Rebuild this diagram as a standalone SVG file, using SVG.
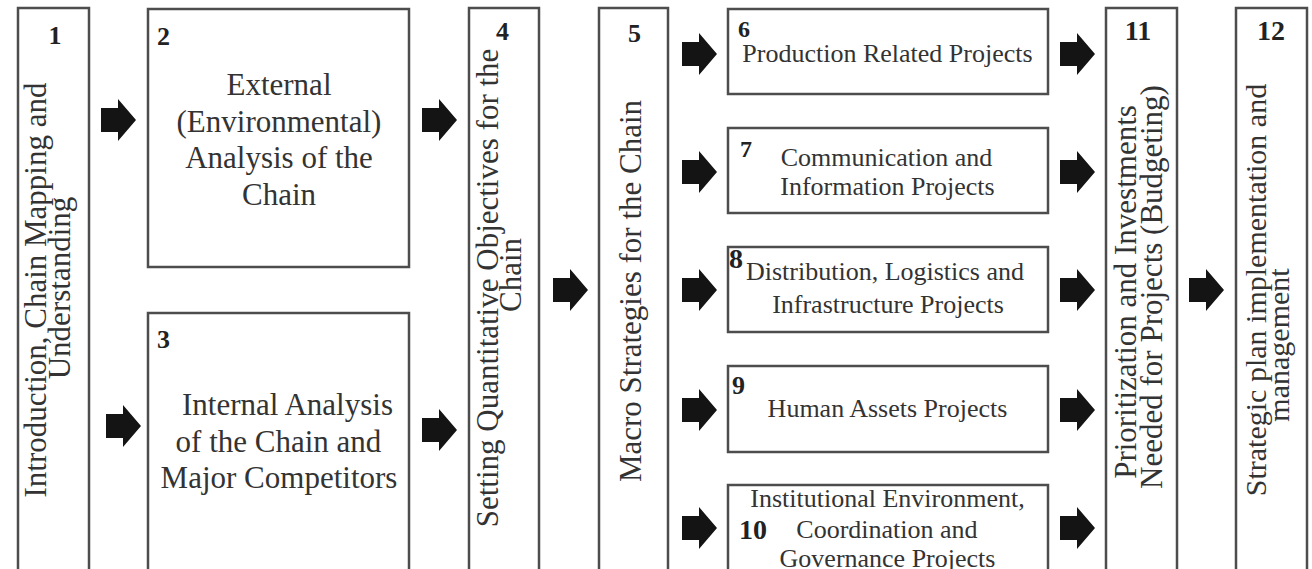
<svg xmlns="http://www.w3.org/2000/svg" width="1312" height="569" viewBox="0 0 1312 569">
  <style>
    .box { fill: #ffffff; stroke: #4d4d4d; stroke-width: 2.5; }
    .t { font-family: "Liberation Serif", "Times New Roman", serif; fill: #333333; }
    .big { font-size: 31px; }
    .mid { font-size: 26px; }
    .num { font-family: "Liberation Serif", "Times New Roman", serif; font-weight: bold; fill: #222222; }
    .arrow { fill: #141414; }
  </style>
  <defs>
    <!-- block arrow, centred on its own origin, pointing right -->
    <path id="blk" d="M-18,-12 H-1 V-21 L17,0 L-1,21 V12 H-18 Z"/>
  </defs>
  <rect width="1312" height="569" fill="#ffffff"/>

  <g id="node1">
    <rect class="box" x="18" y="8" width="71" height="580"/>
    <text class="num" x="55" y="44" font-size="26" text-anchor="middle">1</text>
    <text class="t big" x="46" y="290" text-anchor="middle" transform="rotate(-90 46 290)">Introduction, Chain Mapping and</text>
    <text class="t big" x="70" y="288" text-anchor="middle" transform="rotate(-90 70 288)">Understanding</text>
  </g>

  <g id="node2">
    <rect class="box" x="148" y="9" width="261" height="258"/>
    <text class="num" x="157" y="45" font-size="26">2</text>
    <text class="t big" x="279" y="95" text-anchor="middle">External</text>
    <text class="t big" x="279" y="132" text-anchor="middle">(Environmental)</text>
    <text class="t big" x="279" y="168" text-anchor="middle">Analysis of the</text>
    <text class="t big" x="279" y="205" text-anchor="middle">Chain</text>
  </g>

  <g id="node3">
    <rect class="box" x="148" y="313" width="261" height="280"/>
    <text class="num" x="157" y="348" font-size="26">3</text>
    <text class="t big" x="287.5" y="415" text-anchor="middle">Internal Analysis</text>
    <text class="t big" x="278.5" y="452" text-anchor="middle">of the Chain and</text>
    <text class="t big" x="279" y="488" text-anchor="middle">Major Competitors</text>
  </g>

  <g id="node4">
    <rect class="box" x="469" y="8" width="70" height="580"/>
    <text class="num" x="496" y="40" font-size="26">4</text>
    <text class="t big" x="498" y="288" text-anchor="middle" transform="rotate(-90 498 288)">Setting Quantitative Objectives for the</text>
    <text class="t big" x="521" y="275" text-anchor="middle" transform="rotate(-90 521 275)">Chain</text>
  </g>

  <g id="node5">
    <rect class="box" x="599" y="8" width="69" height="580"/>
    <text class="num" x="628" y="42" font-size="26">5</text>
    <text class="t big" x="641" y="291" text-anchor="middle" transform="rotate(-90 641 291)">Macro Strategies for the Chain</text>
  </g>

  <g id="node6">
    <rect class="box" x="728" y="9" width="320" height="85"/>
    <text class="num" x="738" y="37" font-size="24">6</text>
    <text class="t mid" x="887.5" y="62" text-anchor="middle">Production Related Projects</text>
  </g>

  <g id="node7">
    <rect class="box" x="728" y="128" width="320" height="85"/>
    <text class="num" x="740" y="157" font-size="24">7</text>
    <text class="t mid" x="886.5" y="166" text-anchor="middle">Communication and</text>
    <text class="t mid" x="887.5" y="195" text-anchor="middle">Information Projects</text>
  </g>

  <g id="node8">
    <rect class="box" x="728" y="247" width="320" height="85"/>
    <text class="num" x="729" y="268" font-size="28">8</text>
    <text class="t mid" x="885" y="280" text-anchor="middle">Distribution, Logistics and</text>
    <text class="t mid" x="888" y="313" text-anchor="middle">Infrastructure Projects</text>
  </g>

  <g id="node9">
    <rect class="box" x="728" y="366" width="320" height="86"/>
    <text class="num" x="732" y="394" font-size="26">9</text>
    <text class="t mid" x="887.5" y="417" text-anchor="middle">Human Assets Projects</text>
  </g>

  <g id="node10">
    <rect class="box" x="728" y="485" width="320" height="110"/>
    <text class="t mid" x="887.5" y="507" text-anchor="middle">Institutional Environment,</text>
    <text class="num" x="739" y="539" font-size="28">10</text>
    <text class="t mid" x="887" y="538" text-anchor="middle">Coordination and</text>
    <text class="t mid" x="887.5" y="567" text-anchor="middle">Governance Projects</text>
  </g>

  <g id="node11">
    <rect class="box" x="1106" y="8" width="71" height="580"/>
    <text class="num" x="1138" y="40" font-size="28" text-anchor="middle">11</text>
    <text class="t big" x="1136" y="292" text-anchor="middle" transform="rotate(-90 1136 292)">Prioritization and Investments</text>
    <text class="t big" x="1162" y="287" text-anchor="middle" transform="rotate(-90 1162 287)">Needed for Projects (Budgeting)</text>
  </g>

  <g id="node12">
    <rect class="box" x="1236" y="8" width="71" height="580"/>
    <text class="num" x="1271" y="40" font-size="28" text-anchor="middle">12</text>
    <text class="t" font-size="30" x="1266" y="290" text-anchor="middle" transform="rotate(-90 1266 290)">Strategic plan implementation and</text>
    <text class="t" font-size="30" x="1289" y="345" text-anchor="middle" transform="rotate(-90 1289 345)">management</text>
  </g>

  <g id="connectors" class="arrow">
    <use href="#blk" x="119" y="120"/>
    <use href="#blk" x="124" y="426"/>
    <use href="#blk" x="440" y="120"/>
    <use href="#blk" x="440" y="430"/>
    <use href="#blk" x="571" y="290"/>
    <use href="#blk" x="700" y="54"/>
    <use href="#blk" x="700" y="172"/>
    <use href="#blk" x="700" y="290"/>
    <use href="#blk" x="700" y="410"/>
    <use href="#blk" x="700" y="528"/>
    <use href="#blk" x="1078" y="54"/>
    <use href="#blk" x="1078" y="172"/>
    <use href="#blk" x="1078" y="290"/>
    <use href="#blk" x="1078" y="410"/>
    <use href="#blk" x="1078" y="528"/>
    <use href="#blk" x="1207" y="290"/>
  </g>
</svg>
